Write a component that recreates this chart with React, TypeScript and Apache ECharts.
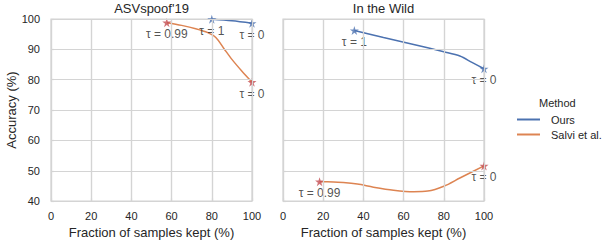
import React, { useEffect, useRef } from "react";
import * as echarts from "echarts";

const panelTitles = ["ASVspoof'19", "In the Wild"];
const seriesNames = ["Ours", "Salvi et al."];
const xTicks = [0, 20, 40, 60, 80, 100];
const yTicks = [40, 50, 60, 70, 80, 90, 100];

const asvOurs: number[][] = [[80, 99.9], [90, 99.4], [100, 98.6]];
const asvSalvi: number[][] = [[57.6, 98.8], [65, 97.9], [72, 96.8], [78, 95.5], [82, 93.9], [86, 90.3], [90, 86.7], [95, 82.8], [100, 79.2]];
const itwOurs: number[][] = [[35.5, 96.2], [50, 93.9], [65, 91.6], [80, 89.2], [88, 87.8], [94, 85.7], [100, 83.6]];
const itwSalvi: number[][] = [[18.2, 46.4], [22, 46.4], [30, 46.1], [37, 45.6], [45, 44.6], [55, 43.6], [65, 43.1], [72, 43.3], [80, 44.9], [88, 47.6], [100, 51.6]];

const asvOursLabels = ["τ = 1", "τ = 0"];
const asvSalviLabels = ["τ = 0.99", "τ = 0"];
const itwOursLabels = ["τ = 1", "τ = 0"];
const itwSalviLabels = ["τ = 0.99", "τ = 0"];

const BLUE = "#4C72B0";
const ORANGE = "#DD8452";
const RED = "#C44E52";
const TEXT = "#262626";
const GRID = "#d4d4d4";
const FONT = "Liberation Sans, Arial, sans-serif";
const STAR = "path://M50,0 L61.8,35.4 L100,35.4 L69.1,57.3 L80.9,93.5 L50,70.8 L19.1,93.5 L30.9,57.3 L0,35.4 L38.2,35.4 Z";

function ends(data: number[][], labels: string[]) {
  return [
    { value: data[0], label: { formatter: labels[0] } },
    { value: data[data.length - 1], label: { formatter: labels[1] } },
  ];
}

export default function App() {
  const ref = useRef<HTMLDivElement>(null);
  useEffect(() => {
    if (!ref.current) return;
    const chart = echarts.init(ref.current, undefined, { renderer: "svg" });
    const grids = [
      { left: 51, top: 19, width: 201, height: 185 },
      { left: 283, top: 19, width: 201, height: 185 },
    ].map((g) => ({ ...g, show: true, borderColor: GRID, borderWidth: 1.2 }));

    const tick = { show: true, inside: true, length: 3, lineStyle: { color: GRID, width: 1.2 } };

    const xAxes = [0, 1].map((i) => ({
      type: "value",
      gridIndex: i,
      min: 0,
      max: 100,
      interval: 20,
      name: "Fraction of samples kept (%)",
      nameLocation: "middle",
      nameGap: 22,
      nameTextStyle: { color: TEXT, fontSize: 13, fontFamily: FONT },
      axisLine: { show: false },
      axisTick: tick,
      axisLabel: { color: TEXT, fontSize: 11, fontFamily: FONT, margin: 9 },
      splitLine: { show: true, lineStyle: { color: GRID, width: 1.2 } },
    }));
    const yAxes = [0, 1].map((i) => ({
      type: "value",
      gridIndex: i,
      min: 40,
      max: 100,
      interval: 10,
      name: i === 0 ? "Accuracy (%)" : "",
      nameLocation: "middle",
      nameGap: 31,
      nameTextStyle: { color: TEXT, fontSize: 13, fontFamily: FONT },
      axisLine: { show: false },
      axisTick: tick,
      axisLabel: { show: i === 0, color: TEXT, fontSize: 11, fontFamily: FONT, margin: 11 },
      splitLine: { show: true, lineStyle: { color: GRID, width: 1.2 } },
    }));

    const gridLinesS = (data: number[][], idx: number) => ({
      type: "line",
      name: "grid" + idx,
      xAxisIndex: idx,
      yAxisIndex: idx,
      data,
      symbol: "none",
      silent: true,
      lineStyle: { opacity: 0 },
      z: 1,
      markLine: {
        silent: true,
        symbol: ["none", "none"],
        label: { show: false },
        emphasis: { disabled: true },
        lineStyle: { color: GRID, type: "solid", width: 1.2 },
        data: [...xTicks.map((v) => ({ xAxis: v })), ...yTicks.map((v) => ({ yAxis: v }))],
      },
    });

    const lineS = (name: string, data: number[][], idx: number, color: string) => ({
      type: "line",
      name,
      xAxisIndex: idx,
      yAxisIndex: idx,
      data,
      smooth: 0.3,
      symbol: "none",
      lineStyle: { color, width: 1.5 },
      itemStyle: { color },
      z: 3,
    });
    const starS = (data: any[], idx: number, color: string) => ({
      type: "scatter",
      xAxisIndex: idx,
      yAxisIndex: idx,
      data,
      symbol: STAR,
      symbolSize: 9,
      itemStyle: { color },
      label: { show: true, position: "bottom", distance: 1, color: TEXT, fontSize: 12, fontFamily: FONT },
      z: 4,
    });

    chart.setOption({
      animation: false,
      textStyle: { fontFamily: FONT },
      title: [
        { text: panelTitles[0], left: 151.5, top: 2, textAlign: "center", textStyle: { color: TEXT, fontSize: 13, fontWeight: "normal", fontFamily: FONT }, padding: 0 },
        { text: panelTitles[1], left: 383.5, top: 2, textAlign: "center", textStyle: { color: TEXT, fontSize: 13, fontWeight: "normal", fontFamily: FONT }, padding: 0 },
      ],
      legend: {
        data: seriesNames,
        orient: "vertical",
        left: 517,
        top: 114,
        padding: 0,
        itemWidth: 23,
        itemHeight: 2,
        itemGap: 4,
        icon: "rect",
        textStyle: { color: TEXT, fontSize: 11, fontFamily: FONT, padding: [0, 0, 0, 6] },
      },
      graphic: [
        { type: "text", left: 539, top: 97, style: { text: "Method", fill: TEXT, font: `11px ${FONT}` } },
      ],
      grid: grids,
      xAxis: xAxes,
      yAxis: yAxes,
      series: [
        gridLinesS(asvSalvi, 0),
        gridLinesS(itwSalvi, 1),
        lineS(seriesNames[0], asvOurs, 0, BLUE),
        lineS(seriesNames[1], asvSalvi, 0, ORANGE),
        lineS(seriesNames[0], itwOurs, 1, BLUE),
        lineS(seriesNames[1], itwSalvi, 1, ORANGE),
        starS(ends(asvOurs, asvOursLabels), 0, BLUE),
        starS(ends(asvSalvi, asvSalviLabels), 0, RED),
        starS(ends(itwOurs, itwOursLabels), 1, BLUE),
        starS(ends(itwSalvi, itwSalviLabels), 1, RED),
      ],
    });
    return () => chart.dispose();
  }, []);
  return <div ref={ref} style={{ position: "fixed", left: 0, top: 0, width: 606, height: 244, background: "#ffffff" }} />;
}
